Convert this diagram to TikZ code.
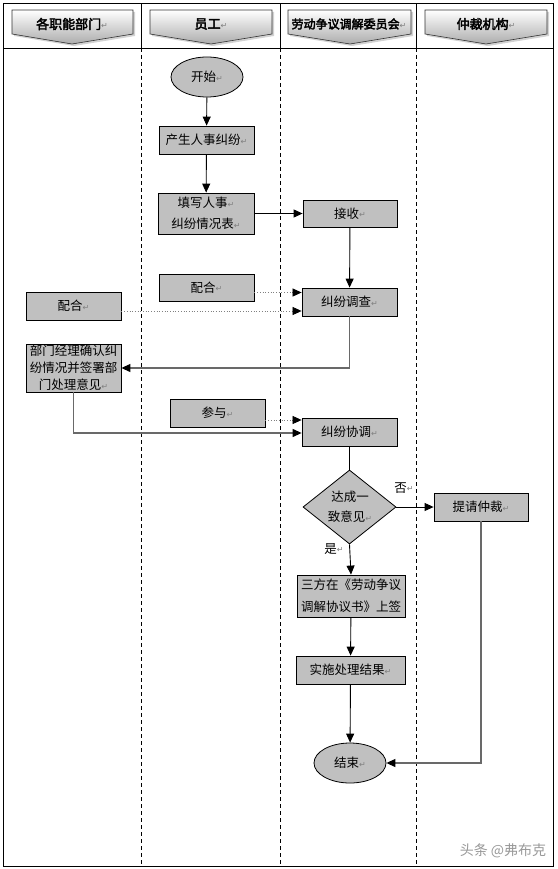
\documentclass[tikz,border=0pt]{standalone}
\usepackage{fontspec}
\setmainfont{Noto Sans CJK SC}
\newfontfamily\hdfont[FakeBold=3]{Noto Sans CJK SC}
\newfontfamily\djv{DejaVu Sans}
\usetikzlibrary{shapes.geometric,arrows.meta,shadows}
\definecolor{boxgray}{RGB}{192,192,192}
\definecolor{lgray}{RGB}{105,105,105}
\newcommand\rt{{\djv\color{gray}\fontsize{8}{8}\selectfont\raisebox{0.5pt}{↵}}}
\tikzset{
  box/.style={draw=black, fill=boxgray, line width=0.8pt, minimum width=95pt, minimum height=28pt, inner sep=1pt, align=center, font=\fontsize{12.5}{20}\selectfont},
  oval/.style={ellipse, draw=black, fill=boxgray, line width=0.8pt, minimum width=72pt, minimum height=40pt, inner sep=0pt, font=\fontsize{12.5}{20}\selectfont},
  arr/.style={line width=0.9pt, -{Triangle[length=9pt,width=8pt]}},
  garr/.style={draw=lgray, line width=1.1pt, -{Triangle[length=9pt,width=8pt,fill=black,color=black]}},
  darr/.style={draw=gray, line width=0.7pt, dotted, -{Triangle[length=9pt,width=8pt,fill=black,color=black]}},
  hdtext/.style={font=\hdfont\fontsize{13}{14}\selectfont, inner sep=0pt},
  lbl/.style={font=\fontsize{12.5}{14}\selectfont, inner sep=0pt},
  lane/.style={line width=0.8pt, dash pattern=on 4pt off 3pt}
}
\newcommand\hdshape[3]{%
  \path[draw=black!80, line width=0.6pt, top color=white, bottom color=gray!65, drop shadow={shadow xshift=2pt, shadow yshift=-2pt, opacity=0.35}]
   (#1,10) -- (#2,10) -- (#2,34) -- (#3,44) -- (#1,34) -- cycle;}
\begin{document}
\begin{tikzpicture}[x=1pt,y=-1pt]
\useasboundingbox (0,0) rectangle (557,869);
\fill[white] (0,0) rectangle (557,869);
% frame
\draw[line width=1pt] (3,4) rectangle (553,866);
\draw[line width=0.8pt] (3,48) -- (553,48);
\foreach \x in {141,280,416} {
  \draw[line width=0.8pt] (\x,4) -- (\x,48);
  \draw[lane] (\x,48) -- (\x,866);
}
% headers
\hdshape{12}{133}{72}
\hdshape{150}{272}{211}
\hdshape{288}{411}{350}
\hdshape{425}{547}{486}
\node[hdtext] (h1) at (72,24) {各职能部门\rt};
\node[hdtext] (h2) at (211,24) {员工\rt};
\node[hdtext, font=\hdfont\fontsize{12}{14}\selectfont] (h3) at (349,24) {劳动争议调解委员会\rt};
\node[hdtext] (h4) at (486,24) {仲裁机构\rt};
% nodes
\node[oval] (start) at (207,77) {开始\rt};
\node[box] (n1) at (206.5,140) {产生人事纠纷\rt};
\node[box, minimum width=96pt, minimum height=41pt, font=\fontsize{12.5}{21}\selectfont] (n2) at (206,213.5) {填写人事\rt\\纠纷情况表\rt};
\node[box, minimum width=94pt, minimum height=27pt] (jieshou) at (350,213.5) {接收\rt};
\node[box, minimum height=27pt] (pei1) at (206.5,287.5) {配合\rt};
\node[box] (pei2) at (73.5,306) {配合\rt};
\node[box] (diaocha) at (349.5,302) {纠纷调查\rt};
\node[box, minimum height=48pt, font=\fontsize{12.5}{17}\selectfont] (jingli) at (73.5,368) {部门经理确认纠\\纷情况并签署部\\门处理意见\rt};
\node[box] (canyu) at (217.5,413) {参与\rt};
\node[box] (xietiao) at (349.5,432) {纠纷协调\rt};
\node[diamond, draw=black, fill=boxgray, line width=0.8pt, minimum width=93pt, minimum height=74pt, inner sep=0pt] (dec) at (349.5,507) {};
\node[lbl, align=center, font=\fontsize{12.5}{20}\selectfont] (dect) at (350,507) {达成一\\致意见\rt};
\node[box, minimum width=94pt] (tiqing) at (481,507) {提请仲裁\rt};
\node[box, minimum width=108pt, minimum height=42pt, font=\fontsize{12.5}{22}\selectfont] (sanfang) at (351,596) {三方在《劳动争议\\调解协议书》上签};
\node[box, minimum width=109pt] (shishi) at (350.5,670) {实施处理结果\rt};
\node[oval] (end) at (350,763) {结束\rt};
% anchor points for offset connectors
\coordinate (p1s) at ([yshift=-5pt]pei1.east);
\coordinate (p2s) at ([yshift=-5pt]pei2.east);
\coordinate (cys) at ([yshift=-7pt]canyu.east);
\coordinate (xtw) at ([yshift=-1pt]xietiao.west);
% connectors
\draw[arr] (start) -- (n1);
\draw[arr] (n1) -- (n2);
\draw[arr] (n2.east) -- (jieshou.west |- n2.east);
\draw[arr] (jieshou) -- (diaocha);
\draw[darr] (p1s) -- (diaocha.west |- p1s);
\draw[darr] (p2s) -- (diaocha.west |- p2s);
\draw[garr] (diaocha.south) |- (jingli.east);
\draw[garr] (jingli.south) |- (xtw);
\draw[darr] (cys) -- (xietiao.west |- cys);
\draw[line width=0.9pt] (xietiao) -- (dec);
\draw[arr] (dec.east) -- (tiqing.west);
\node[lbl] (fou) at (404,488) {否\rt};
\draw[arr] (dec.south) -- (sanfang.north);
\node[lbl] (shi) at (334,549) {是\rt};
\draw[arr] (sanfang) -- (shishi);
\draw[arr] (shishi) -- (end);
\draw[garr] (tiqing.south) |- (end.east);
% watermark
\node[font=\fontsize{14}{15}\selectfont, text=gray!80, inner sep=0pt] (wm) at (503,851) {头条 @弗布克};
\end{tikzpicture}
\end{document}
